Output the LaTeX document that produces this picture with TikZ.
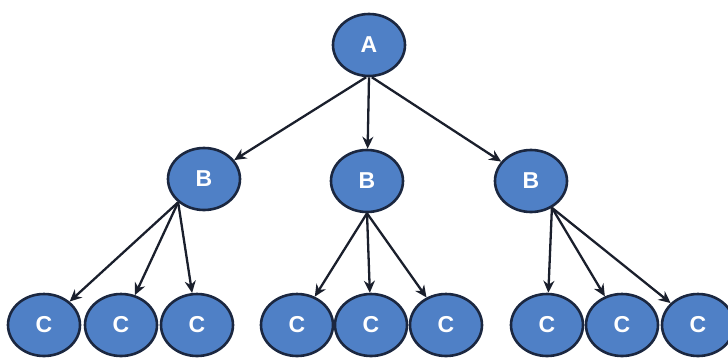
\documentclass[tikz,border=0pt]{standalone}
\usepackage{fontspec}
\setmainfont{Liberation Sans}
\usetikzlibrary{shapes.geometric,arrows.meta}
\definecolor{nodefill}{HTML}{4F80C6}
\definecolor{nodeline}{HTML}{1B2740}
\definecolor{arrowc}{HTML}{1A1F2C}
\tikzset{
  tnode/.style={ellipse, draw=nodeline, line width=2.6pt, fill=nodefill,
    minimum width=72pt, minimum height=62pt, inner sep=0pt,
    text=white, font=\fontsize{23}{23}\selectfont\bfseries},
  conn/.style={draw=arrowc, line width=2.3pt,
    -{Stealth[length=12pt,width=11pt]}}
}
\begin{document}
\begin{tikzpicture}[x=1pt,y=-1pt]
\useasboundingbox (0,0) rectangle (728,360);
\node[tnode] (A) at (369,45) {A};
\node[tnode] (B1) at (204,179) {B};
\node[tnode] (B2) at (367,181) {B};
\node[tnode] (B3) at (531,181) {B};
\node[tnode] (C1) at (44,325) {C};
\node[tnode] (C2) at (121,325) {C};
\node[tnode] (C3) at (197,325) {C};
\node[tnode] (C4) at (297,325) {C};
\node[tnode] (C5) at (371,325) {C};
\node[tnode] (C6) at (446,325) {C};
\node[tnode] (C7) at (547,325) {C};
\node[tnode] (C8) at (622,325) {C};
\node[tnode] (C9) at (698,325) {C};
\draw[conn] (A.265) -- (B1);
\draw[conn] (A.south) -- (B2);
\draw[conn] (A.275) -- (B3);
\draw[conn] (B1.222) -- (C1);
\draw[conn] (B1.222) -- (C2);
\draw[conn] (B1.222) -- (C3);
\draw[conn] (B2.south) -- (C4);
\draw[conn] (B2.south) -- (C5);
\draw[conn] (B2.south) -- (C6);
\draw[conn] (B3.308) -- (C7);
\draw[conn] (B3.308) -- (C8);
\draw[conn] (B3.308) -- (C9);
\end{tikzpicture}
\end{document}
